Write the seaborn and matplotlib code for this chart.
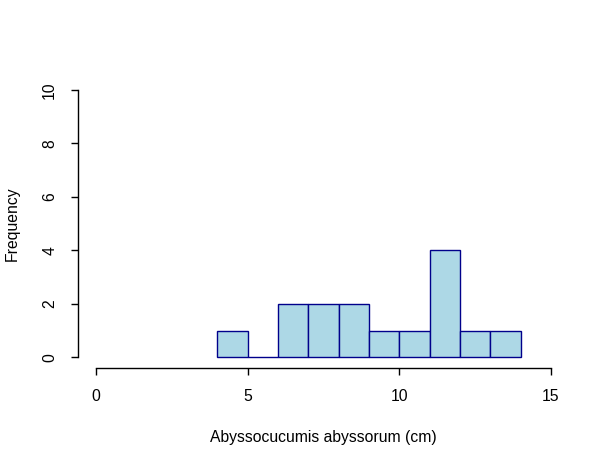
import matplotlib
matplotlib.use("Agg")
import matplotlib.pyplot as plt
import seaborn as sns
import numpy as np

bin_edges = [4, 5, 6, 7, 8, 9, 10, 11, 12, 13, 14]
counts = [1, 0, 2, 2, 2, 1, 1, 4, 1, 1]
x_ticks = [0, 5, 10, 15]
y_ticks = [0, 2, 4, 6, 8, 10]

sns.set_style("white")
plt.rcParams['font.family'] = ['Liberation Sans', 'DejaVu Sans']
plt.rcParams['text.color'] = 'black'
plt.rcParams['axes.labelcolor'] = 'black'

centers = [(a + b) / 2 for a, b in zip(bin_edges[:-1], bin_edges[1:])]

fig = plt.figure(figsize=(6.09, 4.66), dpi=100)
ax = fig.add_axes([78/609, 1-368/466, (569-78)/609, (368-79)/466])
sns.histplot(x=centers, weights=counts, bins=bin_edges, ax=ax,
             color="#ADD8E6", edgecolor="#00008B", linewidth=1.0, alpha=1.0)

ax.set_xlim(-0.6, 15.6)
ax.set_ylim(-0.4, 10.4)
ax.set_xticks(x_ticks)
ax.set_yticks(y_ticks)
ax.set_xticklabels([str(v) for v in x_ticks], fontsize=11.3)
ax.set_yticklabels([str(v) for v in y_ticks], fontsize=11.3, rotation=90, va='center')
for s in ['top', 'right']:
    ax.spines[s].set_visible(False)
ax.spines['left'].set_bounds(0, 10)
ax.spines['bottom'].set_bounds(0, 15)
for s in ['left', 'bottom']:
    ax.spines[s].set_color('black')
    ax.spines[s].set_linewidth(1.0)
ax.tick_params(axis='both', direction='out', length=5, width=1.0, color='black', labelcolor='black', pad=10, left=True, bottom=True)
ax.set_xlabel("Abyssocucumis abyssorum (cm)", fontsize=11.3, labelpad=19, color='black')
ax.set_ylabel("Frequency", fontsize=11.3, labelpad=16, color='black')
ax.grid(False)

fig.savefig("out.png", dpi=100)
